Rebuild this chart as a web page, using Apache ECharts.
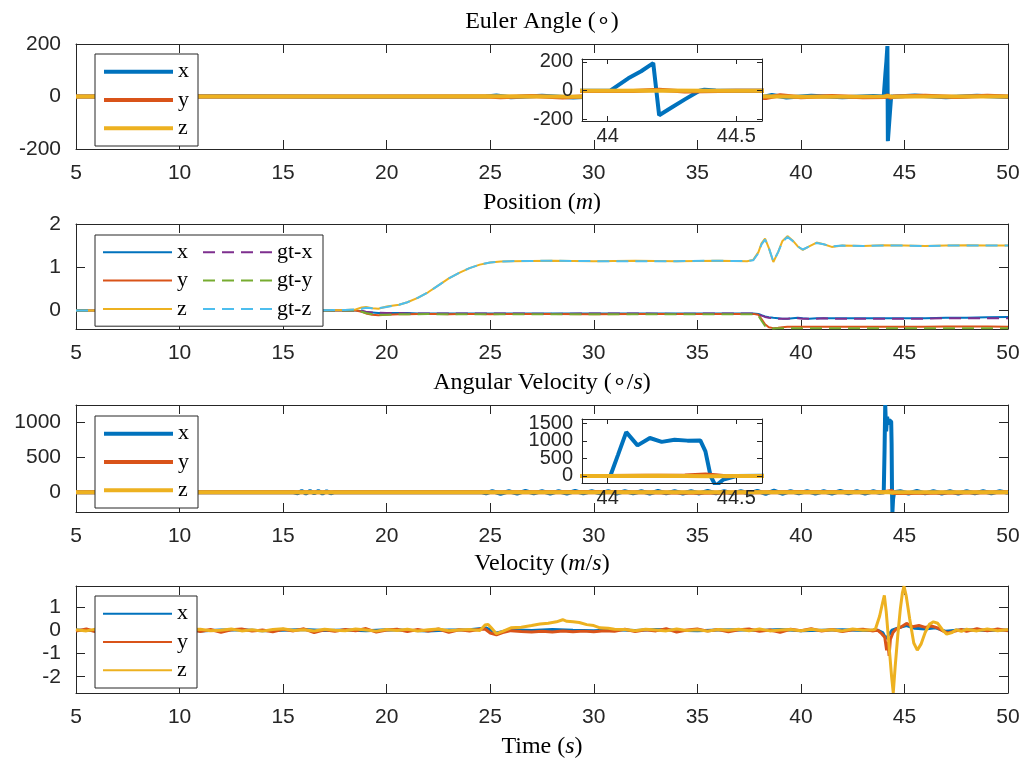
<!DOCTYPE html>
<html>
<head>
<meta charset="utf-8">
<script src="https://cdn.jsdelivr.net/npm/echarts@6/dist/echarts.min.js"></script>
<style>
  html, body { margin: 0; padding: 0; background: #fff; }
  #chart { width: 1025px; height: 765px; }
</style>
</head>
<body>
<div id="chart"></div>
<script>
// ---------- tick values ----------
const timeTicks = [5, 10, 15, 20, 25, 30, 35, 40, 45, 50];
const zoomTimeTicks = [44, 44.5];
const eulerTicks = [-200, 0, 200];
const positionTicks = [0, 1, 2];
const angVelTicks = [0, 500, 1000];
const angVelZoomTicks = [0, 500, 1000, 1500];
const velocityTicks = [-2, -1, 0, 1];

// ---------- Euler angle (deg), [time, value] ----------
const eulerX = [[5,0],[12,1],[18,-1],[24.8,0],[25.3,4],[26,-3],[27.5,3],[29,-4],[30.5,2],[32,-3],[33.5,4],[35,-2],[36.5,3],[38,-5],[38.6,6],[39.3,-4],[40.5,3],[42,-3],[43.5,2],[44.0,0],[44.01,1],[44.08,86],[44.13,135],[44.177,192],[44.2,-170],[44.25,-115],[44.3,-60],[44.357,0],[44.376,7],[44.42,2],[44.5,-1],[44.6,0],[45.5,4],[47,-3],[48.5,3],[50,-2]];
const eulerY = [[5,0],[15,0],[24.8,0],[25.5,-3],[27,2],[28.5,-4],[30,3],[31.5,-2],[33,4],[34.5,-3],[36,2],[37.5,-4],[38.3,-6],[39,5],[40,-3],[41.5,2],[43,-3],[44.1,-2],[44.2,6],[44.3,-5],[44.5,0],[46,3],[47.5,-2],[49,3],[50,0]];
const eulerZ = [[5,0],[20,0],[25,0.5],[30,-0.5],[38,0.5],[40,-1],[44,0],[44.2,2],[44.4,-1],[45,0],[50,0]];

// ---------- Position (m) ----------
const posT = [5,10,15,18,18.5,18.8,19.0,19.3,19.6,20.0,20.6,21.0,21.5,22.0,22.5,23.0,23.5,24.0,24.5,25.0,25.5,26,28,30,32,34,36,37.4,37.7,37.95,38.1,38.27,38.45,38.67,38.9,39.1,39.35,39.6,39.85,40.09,40.4,40.76,41.1,41.49,42,43,44,45,46,47,48,49,50];
const posX  = [0,0,0,0,0,-0.02,-0.04,-0.05,-0.06,-0.06,-0.06,-0.06,-0.07,-0.07,-0.07,-0.07,-0.07,-0.07,-0.07,-0.07,-0.07,-0.07,-0.07,-0.07,-0.07,-0.07,-0.07,-0.07,-0.07,-0.08,-0.11,-0.14,-0.16,-0.17,-0.18,-0.19,-0.19,-0.18,-0.17,-0.18,-0.19,-0.18,-0.18,-0.18,-0.18,-0.18,-0.18,-0.18,-0.18,-0.17,-0.17,-0.16,-0.15];
const posY  = [0,0,0,0,0,-0.03,-0.07,-0.1,-0.11,-0.1,-0.09,-0.09,-0.08,-0.08,-0.08,-0.09,-0.08,-0.08,-0.08,-0.09,-0.08,-0.08,-0.08,-0.09,-0.08,-0.08,-0.08,-0.08,-0.08,-0.1,-0.2,-0.32,-0.39,-0.41,-0.4,-0.39,-0.38,-0.38,-0.38,-0.38,-0.38,-0.38,-0.38,-0.38,-0.38,-0.38,-0.38,-0.38,-0.38,-0.37,-0.37,-0.37,-0.38];
const posZ  = [0,0,0,0.01,0.02,0.07,0.08,0.05,0.04,0.09,0.13,0.19,0.29,0.42,0.58,0.74,0.87,0.98,1.06,1.11,1.13,1.14,1.15,1.14,1.15,1.14,1.15,1.14,1.17,1.35,1.55,1.66,1.45,1.12,1.35,1.6,1.72,1.62,1.48,1.4,1.48,1.57,1.53,1.47,1.5,1.49,1.51,1.5,1.49,1.5,1.51,1.5,1.5];
const gtX   = [0,0,0,0,0,-0.01,-0.03,-0.05,-0.05,-0.06,-0.06,-0.07,-0.07,-0.07,-0.07,-0.07,-0.07,-0.07,-0.07,-0.07,-0.07,-0.07,-0.08,-0.07,-0.07,-0.08,-0.07,-0.07,-0.07,-0.09,-0.12,-0.15,-0.17,-0.18,-0.19,-0.19,-0.19,-0.18,-0.18,-0.19,-0.19,-0.19,-0.18,-0.19,-0.19,-0.19,-0.19,-0.19,-0.19,-0.18,-0.18,-0.18,-0.18];
const gtY   = [0,0,0,0,0,-0.03,-0.06,-0.09,-0.1,-0.1,-0.09,-0.09,-0.09,-0.08,-0.09,-0.09,-0.09,-0.09,-0.09,-0.09,-0.09,-0.09,-0.09,-0.09,-0.09,-0.09,-0.09,-0.09,-0.09,-0.12,-0.24,-0.36,-0.41,-0.42,-0.41,-0.41,-0.41,-0.41,-0.41,-0.41,-0.41,-0.41,-0.41,-0.41,-0.41,-0.41,-0.41,-0.41,-0.41,-0.41,-0.41,-0.41,-0.41];
const gtZ   = [0,0,0,0.01,0.02,0.04,0.06,0.05,0.05,0.08,0.13,0.19,0.29,0.42,0.58,0.74,0.87,0.98,1.06,1.11,1.13,1.14,1.15,1.14,1.14,1.14,1.15,1.14,1.16,1.33,1.53,1.64,1.45,1.13,1.35,1.58,1.7,1.61,1.48,1.41,1.48,1.56,1.53,1.48,1.5,1.49,1.5,1.5,1.49,1.5,1.5,1.5,1.5];

// ---------- Angular velocity (deg/s) ----------
const angX = [[5,0],[15.5,0],[15.55,16],[15.7,-14],[15.9,18],[16.1,-16],[16.3,20],[16.5,-15],[16.7,18],[16.9,-17],[17.1,16],[17.3,-14],[17.45,0],[24.6,0],[24.8,-16],[25.1,18],[25.5,-20],[25.9,15],[26.3,-18],[26.7,20],[27.1,-15],[27.5,17],[27.9,-19],[28.3,16],[28.7,-17],[29.1,19],[29.5,-15],[29.9,18],[30.3,-16],[30.7,15],[31.1,-19],[31.5,17],[31.9,-15],[32.3,16],[32.7,-18],[33.1,19],[33.5,-15],[33.9,17],[34.3,-17],[34.7,15],[35.1,-16],[35.5,19],[35.9,-15],[36.3,17],[36.7,-19],[37.1,16],[37.5,-17],[37.9,20],[38.3,-22],[38.7,23],[39.1,-20],[39.5,18],[39.9,-16],[40.3,17],[40.7,-18],[41.1,15],[41.5,-17],[41.9,19],[42.3,-16],[42.7,17],[43.1,-18],[43.5,15],[43.8,-8],[44.0,0],[44.01,0],[44.04,600],[44.072,1247],[44.116,870],[44.164,1080],[44.21,970],[44.26,1030],[44.31,1005],[44.36,1010],[44.38,700],[44.40,0],[44.42,-281],[44.45,-100],[44.5,0],[44.8,16],[45.2,-17],[45.6,19],[46.0,-15],[46.4,17],[46.8,-17],[47.2,15],[47.6,-18],[48.0,17],[48.4,-15],[48.8,18],[49.2,-16],[49.6,17],[50,-8]];
const angY = [[5,0],[25,0],[30,5],[35,-5],[40,5],[44.0,0],[44.3,15],[44.38,40],[44.42,20],[44.46,-10],[44.5,0],[50,0]];
const angZ = [[5,0],[44.0,0],[44.2,5],[44.4,-5],[44.5,0],[50,0]];

// ---------- Velocity (m/s) ----------
const velX = [[5,0.01],[6,-0.02],[7,0.03],[8,0],[9,-0.01],[10,0.02],[11,-0.03],[12,0.01],[13,0.02],[14,-0.02],[15,0],[16,0.03],[17,-0.01],[18,0.01],[19,-0.02],[20,0.02],[21,0],[22,-0.03],[23,0.01],[24,0.02],[24.8,0.1],[25.3,-0.12],[26,0.02],[27,-0.01],[28,0.03],[29,0],[30,-0.02],[31,0.02],[32,-0.01],[33,0.03],[34,0],[35,-0.02],[36,0.01],[37,0.02],[38,-0.01],[39,0.03],[40,-0.02],[41,0],[42,0.02],[43,-0.01],[43.7,0],[43.95,-0.1],[44.1,-0.36],[44.25,-0.2],[44.4,0],[44.7,0.1],[45.1,0.2],[45.5,0.08],[46,0.05],[46.5,0.1],[47,-0.05],[47.5,0],[48,0.02],[49,-0.01],[50,0.01]];
const velY = [[5,-0.04],[5.5,0.05],[6,-0.08],[6.5,0.02],[7,-0.03],[7.5,0.06],[8,-0.05],[8.5,0.01],[9,-0.1],[9.5,0.04],[10,-0.02],[10.5,0.07],[11,-0.06],[11.5,0.03],[12,-0.09],[12.5,0.02],[13,0.05],[13.5,-0.04],[14,0.01],[14.5,-0.07],[15,0.04],[15.5,-0.03],[16,0.06],[16.5,-0.1],[17,0.02],[17.5,-0.05],[18,0.03],[18.5,-0.02],[19,0.07],[19.5,-0.08],[20,0.01],[20.5,0.04],[21,-0.06],[21.5,0.03],[22,-0.04],[22.5,0.05],[23,-0.09],[23.5,0.02],[24,-0.03],[24.5,0.04],
  [24.75,0.05],[25,-0.12],[25.3,-0.2],[25.6,-0.1],[26,-0.02],[26.5,-0.06],[27,-0.08],[27.5,-0.05],[28,-0.08],[28.5,-0.03],[29,-0.07],[29.5,-0.04],[30,-0.07],[30.5,-0.02],[31,-0.05],
  [31.5,0.04],[32,-0.06],[32.5,0.02],[33,-0.03],[33.5,0.06],[34,-0.08],[34.5,0.01],[35,0.05],[35.5,-0.04],[36,0.03],[36.5,-0.07],[37,0.02],[37.5,0.05],[38,-0.05],[38.5,0.01],[39,-0.09],[39.5,0.04],[40,-0.02],[40.5,0.06],[41,-0.04],[41.5,0.03],[42,-0.06],[42.5,0.02],[43,0.04],[43.5,-0.03],
  [43.7,0],[43.9,-0.15],[44.05,-0.3],[44.14,-0.86],[44.2,-0.5],[44.26,-1.1],[44.32,-0.4],[44.45,-0.1],[44.6,0.05],[44.8,0.12],[45.1,0.29],[45.4,0.15],[45.7,0.2],[46,0.12],[46.3,0.18],[46.6,0.1],[46.9,-0.05],[47.1,-0.12],[47.4,-0.05],[47.75,0.03],
  [48,-0.05],[48.5,0.06],[49,-0.03],[49.5,0.05],[50,-0.02]];
const velZ = [[5,0.02],[5.5,-0.03],[6,0.05],[6.5,-0.01],[7,0.03],[7.5,-0.04],[8,0.02],[8.5,0.06],[9,-0.02],[9.5,0.01],[10,-0.05],[10.5,0.03],[11,0.04],[11.5,-0.02],[12,0],[12.5,0.05],[13,-0.03],[13.5,0.02],[14,-0.04],[14.5,0.03],[15,0.06],[15.5,-0.01],[16,0.02],[16.5,-0.03],[17,0.04],[17.5,0],[18,-0.02],[18.5,0.05],[19,0.01],[19.5,-0.04],[20,0.03],[20.5,-0.01],[21,0.04],[21.5,-0.03],[22,0.02],[22.5,0.05],[23,-0.02],[23.5,0.01],[24,0.03],[24.5,-0.01],
  [24.75,0.22],[24.9,0.25],[25.05,0.1],[25.3,-0.15],[25.6,-0.05],[26,0.1],[26.5,0.13],[27,0.2],[27.4,0.27],[27.8,0.3],[28.2,0.36],[28.5,0.45],[28.7,0.38],[29,0.36],[29.3,0.33],[29.66,0.24],[30,0.2],[30.3,0.1],[30.7,0.08],[31,0.04],
  [31.5,0.03],[32,-0.02],[32.5,0.04],[33,0.01],[33.5,-0.03],[34,0.05],[34.5,-0.01],[35,0.02],[35.5,-0.04],[36,0.03],[36.5,0],[37,0.04],[37.5,-0.02],[38,0.05],[38.5,-0.03],[39,0.01],[39.5,0.03],[40,-0.02],[40.5,0.04],[41,-0.01],[41.5,0.02],[42,-0.03],[42.5,0.05],[43,0],[43.5,0.02],
  [43.6,0.05],[43.8,0.6],[43.95,1.2],[44.03,1.5],[44.12,0.8],[44.25,-0.6],[44.38,-2.0],[44.46,-2.69],[44.55,-1.6],[44.68,-0.2],[44.8,0.9],[44.9,1.6],[44.98,1.89],[45.08,1.5],[45.25,0.5],[45.45,-0.55],[45.62,-0.86],[45.8,-0.6],[46,-0.1],[46.2,0.25],[46.4,0.36],[46.6,0.3],[46.85,0],[47.04,-0.17],[47.3,-0.1],[47.5,0.02],[47.75,-0.05],
  [48,0.04],[48.5,-0.03],[49,0.05],[49.5,-0.02],[50,0.03]];

// ---------- styling ----------
const C = { x: '#0072BD', y: '#D95319', z: '#EDB120', gtx: '#7E2F8E', gty: '#77AC30', gtz: '#4DBEEE' };
const INK = '#262626';
const SANS = 'Liberation Sans';
const SERIF = 'Liberation Serif';
const DASH = [12, 7];

const zip = (t, v) => t.map((ti, i) => [ti, v[i]]);

// ---------- layout: 4 stacked panels + 2 zoomed insets ----------
const grids = [
  { left: 76, right: 17, top: 44,  height: 105 },
  { left: 76, right: 17, top: 224, height: 105 },
  { left: 76, right: 17, top: 405, height: 107 },
  { left: 76, right: 17, top: 586, height: 107 },
  { left: 582, width: 180, top: 59,  height: 62, show: true, backgroundColor: '#fff', borderWidth: 0, z: 5 },
  { left: 582, width: 180, top: 419, height: 64, show: true, backgroundColor: '#fff', borderWidth: 0, z: 5 }
];

const xAxes = [], yAxes = [];
const lineStyle = { color: INK, width: 1 };
function labelStyle(vals, margin, o) {
  return { show: true, customValues: vals, margin, hideOverlap: false,
    fontFamily: SANS, fontSize: o.font, lineHeight: o.lh, color: INK, formatter: (v) => String(v) };
}
function boxAxes(g, xr, xt, yr, yt, o, yLabels) {
  const tick = (vals) => ({ show: true, inside: true, length: o.tick, customValues: vals, lineStyle });
  const base = { type: 'value', gridIndex: g, z: o.z, splitLine: { show: false },
                 axisLine: { show: true, onZero: false, lineStyle } };
  xAxes.push(Object.assign({}, base, { min: xr[0], max: xr[1], position: 'bottom', axisTick: tick(xt), axisLabel: labelStyle(xt, o.xm, o) }));
  xAxes.push(Object.assign({}, base, { min: xr[0], max: xr[1], position: 'top', axisTick: tick(xt), axisLabel: { show: false } }));
  yAxes.push(Object.assign({}, base, { min: yr[0], max: yr[1], position: 'left', offset: 0, axisTick: tick(yt), axisLabel: labelStyle(yLabels || yt, o.ym, o) }));
  yAxes.push(Object.assign({}, base, { min: yr[0], max: yr[1], position: 'right', axisTick: tick(yt), axisLabel: { show: false } }));
}
// label-only companion axis (closely spaced tick labels are split over two axes)
function labelAxis(g, yr, vals, o) {
  yAxes.push({ type: 'value', gridIndex: g, z: o.z, min: yr[0], max: yr[1], position: 'left', offset: 0,
    axisLine: { show: false }, axisTick: { show: false }, splitLine: { show: false },
    axisLabel: labelStyle(vals, o.ym, o) });
}
const mainOpt = { tick: 9, font: 21, lh: 21, xm: 14, ym: 15, z: 0 };
const insetOpt = { tick: 5, font: 20, lh: 14, xm: 8, ym: 9, z: 8 };
boxAxes(0, [5, 50], timeTicks, [-200, 200], eulerTicks, mainOpt);
boxAxes(1, [5, 50], timeTicks, [-0.43, 2], positionTicks, mainOpt);
boxAxes(2, [5, 50], timeTicks, [-281, 1247], angVelTicks, mainOpt);
boxAxes(3, [5, 50], timeTicks, [-2.7, 1.9], velocityTicks, mainOpt);
boxAxes(4, [43.9, 44.6], zoomTimeTicks, [-210, 220], eulerTicks, insetOpt);
boxAxes(5, [43.9, 44.6], zoomTimeTicks, [-200, 1620], angVelZoomTicks, insetOpt, angVelZoomTicks.filter((v, i) => i % 2 === 0));
labelAxis(5, [-200, 1620], angVelZoomTicks.filter((v, i) => i % 2 === 1), insetOpt);

function line(name, data, g, color, width, type, z) {
  const s = { type: 'line', data, xAxisIndex: 2 * g, yAxisIndex: 2 * g, symbol: 'none', clip: true,
    color, lineStyle: { color, width, type: type || 'solid' }, z: z || 2, animation: false, silent: true };
  if (name) s.name = name;
  return s;
}

const series = [
  line('x', eulerX, 0, C.x, 4), line('y', eulerY, 0, C.y, 4), line('z', eulerZ, 0, C.z, 4),
  line('x', zip(posT, posX), 1, C.x, 2), line('y', zip(posT, posY), 1, C.y, 2), line('z', zip(posT, posZ), 1, C.z, 2),
  line('gt-x', zip(posT, gtX), 1, C.gtx, 2, DASH), line('gt-y', zip(posT, gtY), 1, C.gty, 2, DASH), line('gt-z', zip(posT, gtZ), 1, C.gtz, 2, DASH),
  line('x', angX, 2, C.x, 4), line('y', angY, 2, C.y, 4), line('z', angZ, 2, C.z, 4),
  line('x', velX, 3, C.x, 3), line('y', velY, 3, C.y, 3), line('z', velZ, 3, C.z, 3),
  line(null, eulerX, 4, C.x, 4, null, 6), line(null, eulerY, 4, C.y, 4, null, 6), line(null, eulerZ, 4, C.z, 4, null, 6),
  line(null, angX, 5, C.x, 4, null, 6), line(null, angY, 5, C.y, 4, null, 6), line(null, angZ, 5, C.z, 4, null, 6)
];

function legendBox(names, top, lineWidth, extra) {
  return Object.assign({
    data: names, orient: 'vertical', left: 95, top,
    itemWidth: 69, itemHeight: 14, itemGap: 6.3,
    padding: [6.7, 9, 6.7, 7],
    backgroundColor: '#fff', borderColor: INK, borderWidth: 1, borderRadius: 0,
    lineStyle: { width: lineWidth },
    itemStyle: { opacity: 0, borderWidth: 0 },
    textStyle: { fontFamily: SERIF, fontSize: 22, color: '#000' },
    selectedMode: false
  }, extra || {});
}

const legends = [
  legendBox(['x', 'y', 'z'], 54, 4),
  // position: framed first column, second column laid over the same frame
  legendBox(['x', 'y', 'z'], 235, 2, { padding: [6.3, 135, 6.3, 7] }),
  legendBox(['gt-x', 'gt-y', 'gt-z'], 235, 2, { left: 202, padding: [6.3, 0, 6.3, 0],
    backgroundColor: 'transparent', borderWidth: 0, z: 5 }),
  legendBox(['x', 'y', 'z'], 416, 4),
  legendBox(['x', 'y', 'z'], 596, 2)
];

const rich = {
  n: { fontFamily: SERIF, fontSize: 24, fontWeight: 'normal', color: '#000' },
  i: { fontFamily: SERIF, fontSize: 24, fontWeight: 'normal', fontStyle: 'italic', color: '#000' }
};
const heading = (text, top) => ({ text, left: 542, top, textAlign: 'center', padding: 0,
  textStyle: { fontWeight: 'normal', rich } });
const titles = [
  heading('{n|Euler Angle (∘)}', 10),
  heading('{n|Position (}{i|m}{n|)}', 191),
  heading('{n|Angular Velocity (∘/}{i|s}{n|)}', 371),
  heading('{n|Velocity (}{i|m}{n|/}{i|s}{n|)}', 552),
  heading('{n|Time (}{i|s}{n|)}', 735)
];

const chart = echarts.init(document.getElementById('chart'), null, { renderer: 'canvas' });
chart.setOption({
  backgroundColor: '#fff',
  animation: false,
  title: titles,
  legend: legends,
  grid: grids,
  xAxis: xAxes,
  yAxis: yAxes,
  series
});
</script>
</body>
</html>
